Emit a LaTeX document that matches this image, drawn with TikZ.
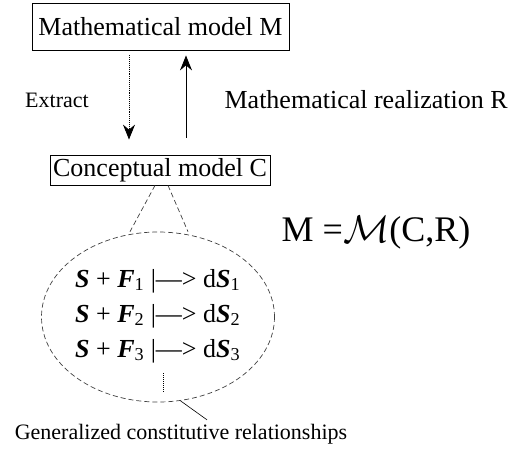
\documentclass[tikz,border=0pt]{standalone}
\usepackage{fontspec}
\setmainfont{Liberation Serif}
\usetikzlibrary{shapes.geometric,arrows.meta}
\newcommand{\bvar}[1]{\textbf{\textit{#1}}}
\begin{document}
\begin{tikzpicture}[x=1pt, y=-1pt]
    % Styles
    \tikzstyle{modelbox} = [rectangle, draw, line width=0.8pt, inner sep=0pt, font=\fontsize{26}{30}\selectfont]
    \tikzstyle{rel} = [inner sep=0pt, font=\fontsize{26}{30}\selectfont]
    \tikzstyle{lbl} = [inner sep=0pt, font=\fontsize{22}{26}\selectfont]
    \tikzstyle{arrow} = [line width=0.9pt, -{Stealth[length=15pt, width=12pt, inset=5pt]}]
    \tikzstyle{guide} = [dashed, line width=0.7pt, gray!50!black, dash pattern=on 5pt off 3pt]
    \useasboundingbox (0,0) rectangle (509,448);

    % Nodes
    \node [modelbox, minimum width=257pt, minimum height=47pt] (mmodel) at (160.5,26.5) {Mathematical model M};
    \node [modelbox, minimum width=220pt, minimum height=30pt] (cmodel) at (160,170) {Conceptual model C};
    \node [lbl] (extract) at (57,100) {Extract};
    \node [modelbox, draw=none, anchor=east] (realize) at (508,100) {Mathematical realization R};
    \node [inner sep=0pt, font=\fontsize{36}{40}\selectfont] (eqn) at (376,233) {M =\raisebox{-1pt}{\scalebox{1.55}{$\mathcal{M}$}}(C,R)};
    \node [ellipse, draw, guide, minimum width=233pt, minimum height=170pt, inner sep=0pt] (relset) at (158,317) {};
    \node [rel, anchor=west] (r1) at (75,281) {\bvar{S} + \bvar{F}\textsubscript{1} |—> d\bvar{S}\textsubscript{1}};
    \node [rel, anchor=west] (r2) at (75,316) {\bvar{S} + \bvar{F}\textsubscript{2} |—> d\bvar{S}\textsubscript{2}};
    \node [rel, anchor=west] (r3) at (75,351) {\bvar{S} + \bvar{F}\textsubscript{3} |—> d\bvar{S}\textsubscript{3}};
    \node [lbl] (gcr) at (181,434) {Generalized constitutive relationships};

    % Arrows
    \draw [arrow, densely dotted] ([xshift=-31.5pt, yshift=-5pt]mmodel.south) -- ([xshift=-31pt, yshift=15pt]cmodel.north);
    \draw [arrow] ([xshift=26pt, yshift=17pt]cmodel.north) -- ([xshift=25.5pt, yshift=-5pt]mmodel.south);

    % Zoom lines
    \draw [guide] ([xshift=-5pt]cmodel.south) -- ([xshift=-28pt]relset.north);
    \draw [guide] ([xshift=8pt]cmodel.south) -- ([xshift=30pt]relset.north);
    \draw [densely dotted, line width=1pt] ([xshift=5pt]relset.center |- 0,373) -- ++(0,20);
    \draw [line width=0.6pt] (relset.-75) -- ([xshift=26pt, yshift=4pt]gcr.north);
\end{tikzpicture}
\end{document}
